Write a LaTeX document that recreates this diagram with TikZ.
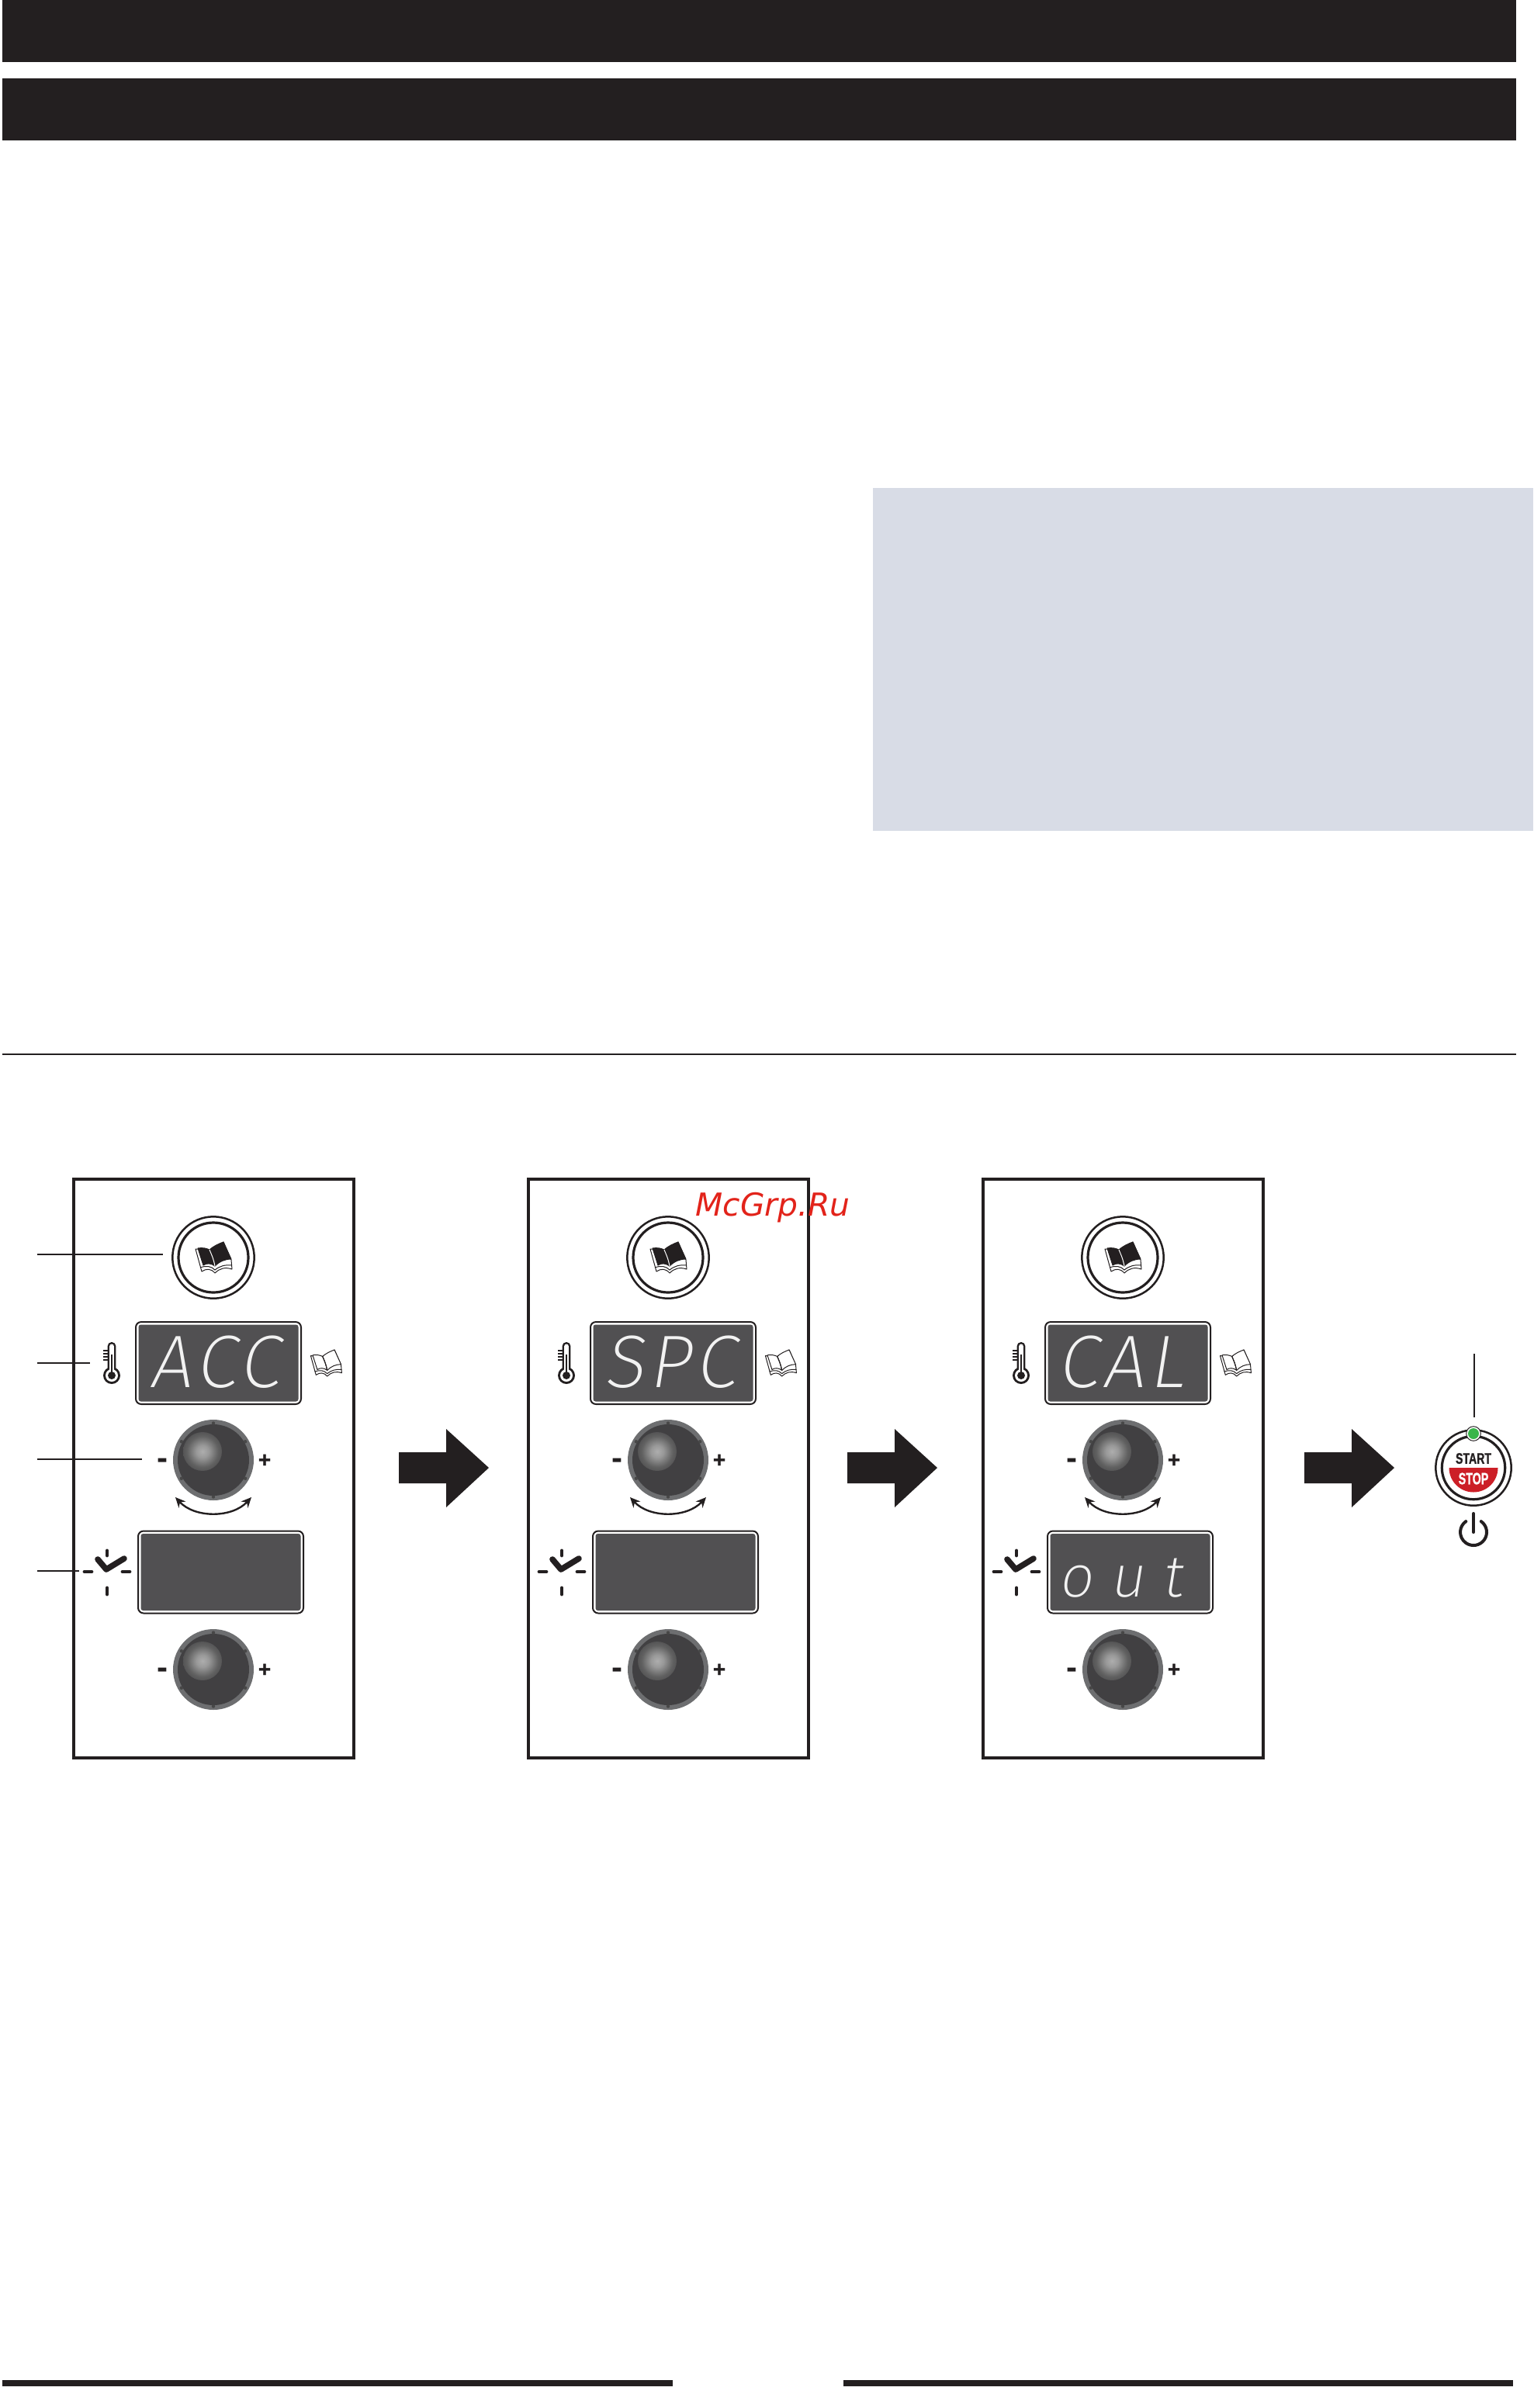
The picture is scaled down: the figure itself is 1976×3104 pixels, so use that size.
\documentclass[tikz,border=0pt]{standalone}
\usepackage{fontspec}
\setmainfont{Liberation Sans}
\setsansfont{DejaVu Sans}
\newfontfamily\lcdfont[LetterSpace=6,FakeSlant=0.16]{Fira Sans ExtraLight}
\newfontfamily\lcdsmall[LetterSpace=30,FakeSlant=0.16]{Fira Sans ExtraLight}
\newfontfamily\btnfont[FakeBold=1.2]{Liberation Sans Bold}
\usetikzlibrary{arrows.meta, calc, shadings}
\definecolor{ink}{HTML}{231F20}
\definecolor{lcdgrey}{HTML}{515052}
\definecolor{knobrim}{HTML}{6D6E70}
\definecolor{knobgrey}{HTML}{414042}
\definecolor{notebox}{HTML}{D8DCE6}
\definecolor{stopred}{HTML}{CC1F27}
\definecolor{ledgreen}{HTML}{39B54A}
\definecolor{markred}{HTML}{E2231A}
\pgfdeclareradialshading{knobglow}{\pgfpointorigin}{color(0bp)=(black!32); color(8bp)=(black!40); color(20bp)=(black!62); color(34bp)=(knobgrey); color(50bp)=(knobgrey)}

\tikzset{
  pics/bookicon/.style 2 args={code={
    \draw[fill=white, line width=0.5pt, draw=ink, line join=round]
      (-23,-11) -- (-15,18) .. controls (-9,14) and (-3,14) .. (2,20) .. controls (8,14) and (15,12) .. (24,15) -- (23,3) -- (13,-20) -- (-5,-10) -- cycle;
    \draw[line width=0.5pt, draw=ink] (-17,13) .. controls (-9,10) and (-3,11) .. (2,16) .. controls (8,11) and (15,9) .. (24,10);
    \draw[fill=#1, line width=0.5pt, draw=ink, line join=round]
      (-20,-12) .. controls (-14,-13) and (-9,-12) .. (-5,-10) .. controls (-2,-3) and (0,1) .. (2,11) .. controls (-3,7) and (-9,7) .. (-13,10) -- cycle;
    \draw[fill=#1, line width=0.5pt, draw=ink, line join=round]
      (-5,-10) .. controls (-1,-14) and (7,-18) .. (13,-20) -- (23,2) .. controls (15,2) and (8,5) .. (2,11) .. controls (0,1) and (-2,-3) .. (-5,-10) -- cycle;
    \draw[#2, line width=0.5pt, line cap=round] (-5,-10) .. controls (-2,-3) and (0,1) .. (2,11);
  }}
}

\begin{document}
\begin{tikzpicture}[
  x=0.5pt, y=-0.5pt,
  panelbox/.style={rectangle, draw=ink, line width=1.75pt, minimum width=180.5pt, minimum height=373pt, inner sep=0pt},
  ringout/.style={circle, draw=ink, line width=1.25pt, inner sep=0pt},
  ringin/.style={circle, draw=ink, line width=1.6pt, inner sep=0pt},
  lcdframe/.style={rectangle, rounded corners=3.5pt, draw=ink, line width=1pt, fill=white, minimum width=106.5pt, minimum height=53pt, inner sep=0pt},
  lcdface/.style={rectangle, rounded corners=1.5pt, fill=lcdgrey, minimum width=103pt, minimum height=49.5pt, inner sep=0pt},
  lcdtext/.style={anchor=base west, inner sep=0pt, text=white!95!black},
  kniprim/.style={circle, fill=knobrim, minimum size=52pt, inner sep=0pt},
  knipface/.style={circle, fill=knobgrey, minimum size=46pt, inner sep=0pt},
  rimdot/.style={fill=black!72},
  signmark/.style={inner sep=0pt, text=ink},
  leader/.style={draw=ink, line width=0.85pt},
  swing/.style={<->, >={Stealth[length=6.5pt, width=6pt]}, draw=ink, line width=1.2pt},
  ticked/.style={draw=ink, line width=2.4pt, line cap=round},
  bigarrow/.style={fill=ink}
]
  \useasboundingbox (0,0) rectangle (1976,3104);

  % bars and rule
  \fill[ink] (3,0) rectangle (1954,80);
  \fill[ink] (3,101) rectangle (1954,181);
  \fill[notebox] (1125,629) rectangle (1976,1071);
  \draw[ink, line width=1.25pt] (3,1359) -- (1954,1359);
  \fill[ink] (3,3068) rectangle (867,3076);
  \fill[ink] (1087,3068) rectangle (1950,3076);

  % three panels
  \foreach \n/\dx in {1/0, 2/586, 3/1172} {
    \begin{scope}[xshift=\dx*0.5pt]
      \node[panelbox] (panel\n) at (275.5,1893) {};
      \node[ringout, minimum size=52.7pt] (bookbtn\n) at (275,1621) {};
      \node[ringin, minimum size=45pt] at (bookbtn\n) {};
      \pic at (275,1621) {bookicon={ink}{white}};

      \node[lcdframe] (lcdA\n) at (281.5,1757) {};
      \node[lcdface] at (lcdA\n) {};
      \node[lcdframe] (lcdB\n) at (284.5,2026.5) {};
      \node[lcdface] at (lcdB\n) {};

      % thermometer
      \begin{scope}[shift={(144,1773)}]
        \fill[ink] (0,0) circle (11);
        \fill[ink, rounded corners=2.6pt] (-5.4,-43) rectangle (5.4,0);
        \fill[white] (0,0) circle (8);
        \fill[white, rounded corners=1.4pt] (-2.8,-40.5) rectangle (2.8,0);
        \fill[ink] (-1.4,-27) rectangle (1.4,0);
        \fill[ink] (0,0) circle (5);
        \foreach \ty in {-32,-28,-24,-20} \draw[ink, line width=0.8pt] (-11,\ty) -- (-5,\ty);
      \end{scope}
      \pic[scale=0.85] at (420,1757) {bookicon={white}{ink}};

      % knobs
      \foreach \k/\ky in {A/1882, B/2152} {
        \node[kniprim] (knob\k\n) at (275,\ky) {};
        \node[knipface] at (knob\k\n) {};
        \shade[shading=knobglow] (261,\ky-11) circle (25);
        \foreach \a in {30,90,150,210,270,330} \fill[rimdot] ($(knob\k\n)+(\a:47.5)$) circle (2.2);
        \node[signmark, font=\bfseries\fontsize{21}{21}\selectfont] at (209,\ky+5) {-};
        \node[signmark, font=\btnfont\fontsize{14}{14}\selectfont] at (341,\ky+1) {+};
      }
      \coordinate (swingL\n) at (226,1930);
      \coordinate (swingR\n) at (324,1930);
      \draw[swing] (swingL\n) .. controls (251,1957) and (299,1957) .. (swingR\n);

      % clock mark
      \begin{scope}[shift={(138,2026)}]
        \draw[ticked, line width=3.8pt, line join=round] (-12,-16) -- (-1,-3) -- (22,-17);
        \draw[ticked] (0,-27) -- (0,-21);
        \draw[ticked] (0,21) -- (0,29);
        \draw[ticked] (-29,0) -- (-20,0);
        \draw[ticked] (20,0) -- (29,0);
      \end{scope}
    \end{scope}
  }

  % display texts
  \node[lcdtext, font=\lcdfont\fontsize{48}{48}\selectfont] (txtA1) at (192,1788) {ACC};
  \node[lcdtext, font=\lcdfont\fontsize{48}{48}\selectfont] (txtA2) at (778,1788) {SPC};
  \node[lcdtext, font=\lcdfont\fontsize{48}{48}\selectfont] (txtA3) at (1362,1788) {CAL};
  \node[lcdtext, font=\lcdsmall\fontsize{38}{38}\selectfont] (txtB3) at (1364,2058) {out};

  % leaders of the first panel
  \foreach \l/\ly/\lx in {a/1617/210, b/1757/116, c/1881/183, d/2025/102} {
    \coordinate (leadS\l) at (48,\ly);
    \coordinate (leadE\l) at (\lx,\ly);
    \draw[leader] (leadS\l) -- (leadE\l);
  }

  % arrows between panels
  \foreach \ax in {514, 1092, 1681}
    \fill[bigarrow] (\ax,1872) -- (\ax+61,1872) -- (\ax+61,1842) -- (\ax+116,1892) -- (\ax+61,1943) -- (\ax+61,1912) -- (\ax,1912) -- cycle;

  % start stop button
  \node[ringout, minimum size=48.7pt] (startbtn) at (1899,1892) {};
  \node[ringin, minimum size=40.7pt] at (startbtn) {};
  \begin{scope}[shift={(1899,1892)}, x=0.5pt, y=0.5pt]
    \fill[stopred] (-31.5,0) arc (180:360:31.5) -- cycle;
  \end{scope}
  \node[inner sep=0pt, text=ink, font=\btnfont\fontsize{9.8}{10}\selectfont] (starttxt) at (1899,1880) {\scalebox{0.72}[1]{START}};
  \node[inner sep=0pt, text=white, font=\btnfont\fontsize{10.5}{11}\selectfont] (stoptxt) at (1899,1906) {\scalebox{0.68}[1]{STOP}};
  \node[circle, fill=white, draw=ink, line width=0.5pt, minimum size=9.3pt, inner sep=0pt] (ledring) at (1899,1848) {};
  \node[circle, fill=ledgreen, minimum size=7pt, inner sep=0pt] at (ledring) {};
  \coordinate (startleadA) at (1900,1745);
  \coordinate (startleadB) at (1900,1827);
  \draw[leader] (startleadA) -- (startleadB);
  \begin{scope}[shift={(1899,1975)}, x=0.5pt, y=0.5pt]
    \draw[ink, line width=2pt, line cap=round] (55:17) arc (55:-235:17);
    \draw[ink, line width=2pt, line cap=round] (0,24) -- (0,0);
  \end{scope}

  % mark over the picture
  \node[anchor=base west, inner sep=0pt, text=markred, font=\sffamily\itshape\fontsize{20.4}{20}\selectfont] (mark) at (896,1567) {McGrp.Ru};
\end{tikzpicture}
\end{document}
